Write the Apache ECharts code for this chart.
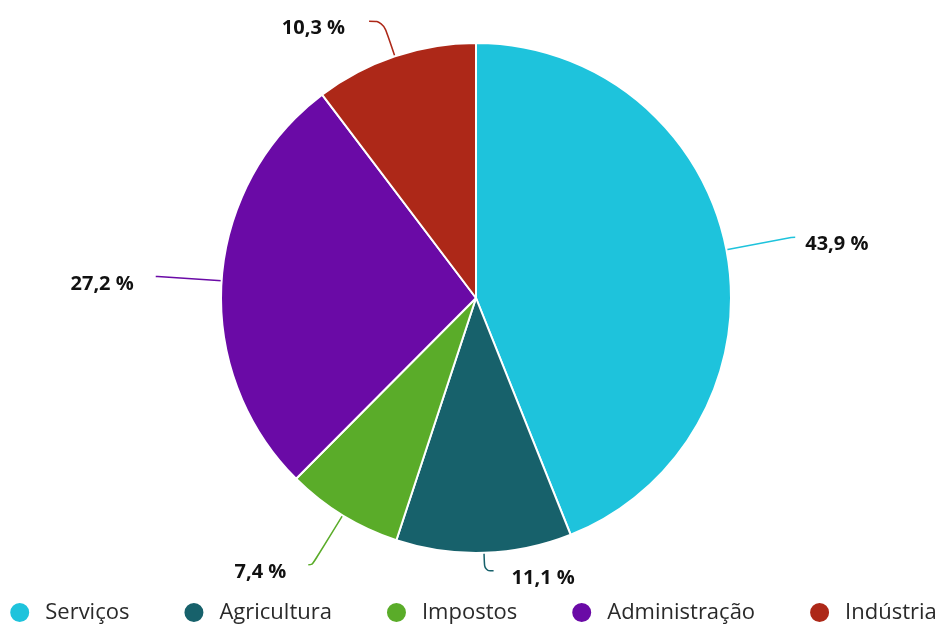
<!DOCTYPE html>
<html>
<head>
<meta charset="utf-8">
<script src="https://cdn.jsdelivr.net/npm/echarts@6/dist/echarts.min.js"></script>
<style>
  html, body { margin: 0; padding: 0; background: #fff; }
  #chart { width: 945px; height: 632px; }
</style>
</head>
<body>
<div id="chart"></div>
<script>
const categories = ['Serviços', 'Agricultura', 'Impostos', 'Administração', 'Indústria'];
const shares = [43.9, 11.1, 7.4, 27.2, 10.3];
const colors = ['#1ec3dc', '#17616b', '#5aac29', '#6a0aa6', '#ad2818'];

// label line tuning per slice: [length, length2, gap to text]
const lines = [[66, 4, 10], [18, 9, 18], [58, 4, 22], [64, 2, 22], [37, 14, 24]];

const chart = echarts.init(document.getElementById('chart'));
chart.setOption({
    backgroundColor: '#fff',
    color: colors,
    animation: false,
    legend: {
        bottom: 3,
        left: 'center',
        padding: [5, 0, 5, 14],
        icon: 'circle',
        itemWidth: 21,
        itemHeight: 21,
        itemGap: 53,
        textStyle: { fontFamily: 'Open Sans', fontSize: 22, color: '#2a2a2a', padding: [0, 0, 0, 10] },
        data: categories
    },
    series: [{
        type: 'pie',
        center: [476, 298],
        radius: [0, 255],
        startAngle: 90,
        clockwise: true,
        itemStyle: { borderColor: '#fff', borderWidth: 2 },
        label: {
            show: true,
            formatter: (p) => '{v|' + p.value.toFixed(1).replace('.', ',') + ' %}',
            rich: {
                v: {
                    fontFamily: 'Open Sans',
                    fontWeight: 'bold',
                    fontSize: 20,
                    color: '#111',
                    padding: [15, 0, 0, 0]
                }
            }
        },
        labelLine: { show: true, smooth: 0.4, lineStyle: { width: 1.5 } },
        data: categories.map((c, i) => ({
            name: c,
            value: shares[i],
            label: { distanceToLabelLine: lines[i][2] },
            labelLine: { length: lines[i][0], length2: lines[i][1] }
        }))
    }]
});
</script>
</body>
</html>
